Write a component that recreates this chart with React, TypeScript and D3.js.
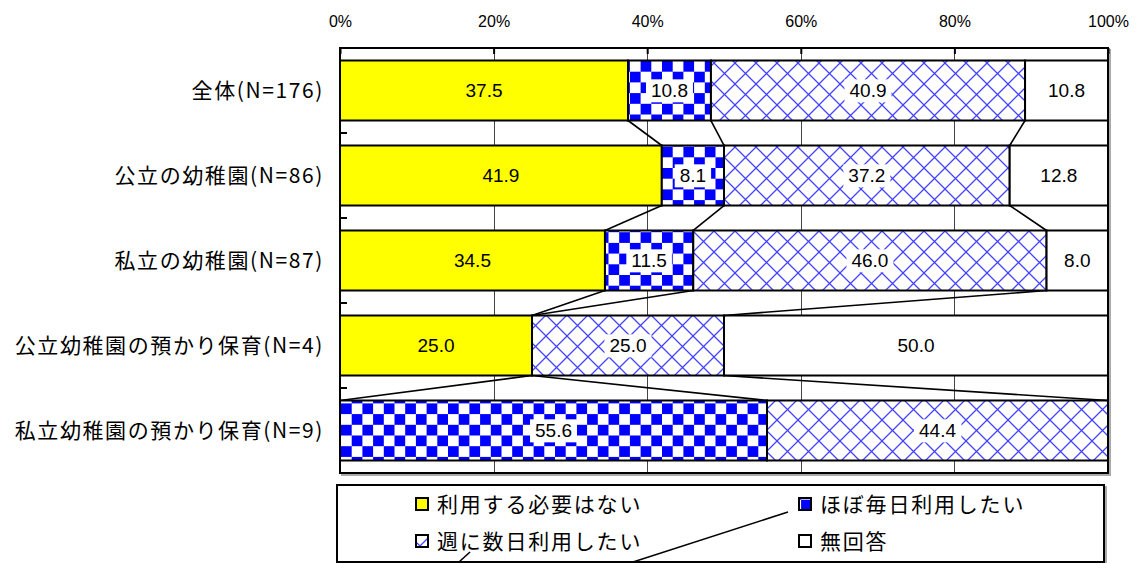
import React, { useEffect, useRef } from "react";
import * as d3 from "d3";

const categories = [
  "全体(N=176)",
  "公立の幼稚園(N=86)",
  "私立の幼稚園(N=87)",
  "公立幼稚園の預かり保育(N=4)",
  "私立幼稚園の預かり保育(N=9)",
];
const seriesNames = ["利用する必要はない", "ほぼ毎日利用したい", "週に数日利用したい", "無回答"];
const noNeed = [37.5, 41.9, 34.5, 25.0, 0];
const daily = [10.8, 8.1, 11.5, 0, 55.6];
const weekly = [40.9, 37.2, 46.0, 25.0, 44.4];
const noAnswer = [10.8, 12.8, 8.0, 50.0, 0];
const xTicks = [0, 20, 40, 60, 80, 100];

const fills = ["#ffff00", "url(#chk)", "url(#hatch)", "#ffffff"];
const JP = "'Noto Sans CJK JP', 'Noto Sans', sans-serif";
const NUM = "'Liberation Sans', Arial, sans-serif";

const App = () => {
  const svgRef = useRef<SVGSVGElement>(null);

  useEffect(() => {
    const svg = d3.select(svgRef.current);
    svg.selectAll("*").remove();

    const width = 1140;
    const height = 563;
    const left = 340;
    const right = 1108;
    const top = 48;
    const bottom = 473;

    // Patterns
    const defs = svg.append("defs");
    const cell = 10.7;
    const chk = defs
      .append("pattern")
      .attr("id", "chk")
      .attr("patternUnits", "userSpaceOnUse")
      .attr("x", 341)
      .attr("y", 61)
      .attr("width", cell * 2)
      .attr("height", cell * 2);
    chk.append("rect").attr("width", cell * 2).attr("height", cell * 2).attr("fill", "#fff");
    chk.append("rect").attr("width", cell).attr("height", cell).attr("fill", "#0000ff");
    chk
      .append("rect")
      .attr("x", cell)
      .attr("y", cell)
      .attr("width", cell)
      .attr("height", cell)
      .attr("fill", "#0000ff");

    const hp = 21;
    const hatch = defs
      .append("pattern")
      .attr("id", "hatch")
      .attr("patternUnits", "userSpaceOnUse")
      .attr("x", 0)
      .attr("y", 0)
      .attr("width", hp)
      .attr("height", hp);
    hatch.append("rect").attr("width", hp).attr("height", hp).attr("fill", "#fff");
    hatch
      .append("path")
      .attr("d", `M0,0L${hp},${hp}M${hp},0L0,${hp}`)
      .attr("stroke", "#4444ff")
      .attr("stroke-width", 1.3)
      .attr("fill", "none");

    // Scales
    const x = d3.scaleLinear().domain([0, 100]).range([left, right]);
    const y = d3
      .scaleBand<string>()
      .domain(categories)
      .range([top, bottom])
      .paddingInner(0.294)
      .paddingOuter(0.147);

    const rows = categories.map((c, i) => ({
      cat: c,
      s0: noNeed[i],
      s1: daily[i],
      s2: weekly[i],
      s3: noAnswer[i],
    }));
    const keys = ["s0", "s1", "s2", "s3"];
    const stacked = d3.stack<any>().keys(keys)(rows);

    svg.append("rect").attr("width", width).attr("height", height).attr("fill", "#fff");

    // Plot frame shadow + background
    svg
      .append("rect")
      .attr("x", left + 2)
      .attr("y", top + 2)
      .attr("width", right - left)
      .attr("height", bottom - top)
      .attr("fill", "none")
      .attr("stroke", "#aaa")
      .attr("stroke-width", 2);
    svg
      .append("rect")
      .attr("x", left)
      .attr("y", top)
      .attr("width", right - left)
      .attr("height", bottom - top)
      .attr("fill", "#fff");

    // Gridlines
    svg
      .append("g")
      .selectAll("line")
      .data(xTicks.slice(1, -1))
      .join("line")
      .attr("x1", (d) => Math.round(x(d)) + 0.5)
      .attr("x2", (d) => Math.round(x(d)) + 0.5)
      .attr("y1", top)
      .attr("y2", bottom)
      .attr("stroke", "#444")
      .attr("stroke-width", 1);

    // Bars
    const bw = y.bandwidth();
    stacked.forEach((layer, si) => {
      svg
        .append("g")
        .selectAll("rect")
        .data(layer.filter((d) => d[1] - d[0] > 0))
        .join("rect")
        .attr("x", (d) => x(d[0]))
        .attr("y", (d) => y(d.data.cat)!)
        .attr("width", (d) => x(d[1]) - x(d[0]))
        .attr("height", bw)
        .attr("fill", fills[si])
        .attr("stroke", "#000")
        .attr("stroke-width", 2);
    });

    // Series lines
    const sl = svg.append("g").attr("stroke", "#000").attr("stroke-width", 1.6);
    for (let si = 0; si < 3; si++) {
      const layer = stacked[si];
      for (let r = 0; r < rows.length - 1; r++) {
        sl.append("line")
          .attr("x1", x(layer[r][1]))
          .attr("y1", y(rows[r].cat)! + bw)
          .attr("x2", x(layer[r + 1][1]))
          .attr("y2", y(rows[r + 1].cat)!);
      }
    }

    // Data labels
    const lg = svg.append("g");
    stacked.forEach((layer, si) => {
      layer.forEach((d) => {
        const v = d[1] - d[0];
        if (v <= 0) return;
        const cx = (x(d[0]) + x(d[1])) / 2;
        const cy = y(d.data.cat)! + bw / 2;
        const g = lg.append("g");
        const t = g
          .append("text")
          .attr("x", cx)
          .attr("y", cy)
          .attr("dy", "0.36em")
          .attr("text-anchor", "middle")
          .style("font-family", NUM)
          .style("font-size", "19px")
          .attr("fill", "#000")
          .text(d3.format(".1f")(v));
        if (si === 1 || si === 2) {
          const bb = (t.node() as SVGTextElement).getBBox();
          g.insert("rect", "text")
            .attr("x", bb.x - 5)
            .attr("y", bb.y - 1)
            .attr("width", bb.width + 10)
            .attr("height", bb.height + 2)
            .attr("fill", "#fff");
        }
      });
    });

    // Frame
    svg
      .append("rect")
      .attr("x", left)
      .attr("y", top)
      .attr("width", right - left)
      .attr("height", bottom - top)
      .attr("fill", "none")
      .attr("stroke", "#000")
      .attr("stroke-width", 2);

    // Top axis
    const ax = svg
      .append("g")
      .attr("transform", `translate(0,${top})`)
      .call(
        d3
          .axisTop(x)
          .tickValues(xTicks)
          .tickSize(-6)
          .tickPadding(21)
          .tickFormat((d) => `${d}%`)
      );
    ax.select(".domain").remove();
    ax.selectAll("line").attr("stroke", "#000").attr("stroke-width", 2);
    ax.selectAll("text")
      .style("font-family", NUM)
      .style("font-size", "16px")
      .attr("fill", "#000");

    // Category ticks
    const step = y.step();
    svg
      .append("g")
      .selectAll("line")
      .data(categories.slice(1))
      .join("line")
      .attr("x1", left)
      .attr("x2", left + 7)
      .attr("y1", (c) => y(c)! - (y.paddingInner() * step) / 2)
      .attr("y2", (c) => y(c)! - (y.paddingInner() * step) / 2)
      .attr("stroke", "#000")
      .attr("stroke-width", 2);

    // Category labels
    svg
      .append("g")
      .selectAll("text")
      .data(categories)
      .join("text")
      .attr("x", 324)
      .attr("y", (c) => y(c)! + bw / 2)
      .attr("dy", "0.36em")
      .attr("text-anchor", "end")
      .style("font-family", JP)
      .style("font-size", "21px")
      .style("letter-spacing", "1.6px")
      .attr("fill", "#000")
      .text((c) => c);

    // Legend
    const lx0 = 337;
    const ly0 = 485;
    const lw = 767;
    const lh = 77;
    svg
      .append("rect")
      .attr("x", lx0 + 2)
      .attr("y", ly0 + 2)
      .attr("width", lw)
      .attr("height", lh)
      .attr("fill", "none")
      .attr("stroke", "#aaa")
      .attr("stroke-width", 2);
    svg
      .append("rect")
      .attr("x", lx0)
      .attr("y", ly0)
      .attr("width", lw)
      .attr("height", lh)
      .attr("fill", "#fff")
      .attr("stroke", "#000")
      .attr("stroke-width", 2);

    const stray = svg.append("g").attr("stroke", "#000").attr("stroke-width", 1.6);
    stray.append("line").attr("x1", 633).attr("y1", ly0 + lh).attr("x2", 788).attr("y2", 512);
    stray.append("line").attr("x1", 459).attr("y1", ly0 + lh).attr("x2", 470).attr("y2", 552);

    const legendPos = [
      [416, 498],
      [799, 498],
      [416, 535],
      [799, 535],
    ];
    seriesNames.forEach((name, i) => {
      const [sx, sy] = legendPos[i];
      const g = svg.append("g");
      g.append("rect")
        .attr("x", sx)
        .attr("y", sy)
        .attr("width", 12)
        .attr("height", 12)
        .attr("fill", fills[i])
        .attr("stroke", "#000")
        .attr("stroke-width", 2);
      g.append("text")
        .attr("x", sx + 21)
        .attr("y", sy + 6)
        .attr("dy", "0.36em")
        .style("font-family", JP)
        .style("font-size", "21px")
        .style("letter-spacing", "1.8px")
        .attr("fill", "#000")
        .text(name);
    });
  }, []);

  return (
    <svg
      ref={svgRef}
      width={1140}
      height={563}
      style={{ position: "absolute", left: 0, top: 0, display: "block" }}
    />
  );
};

export default App;
